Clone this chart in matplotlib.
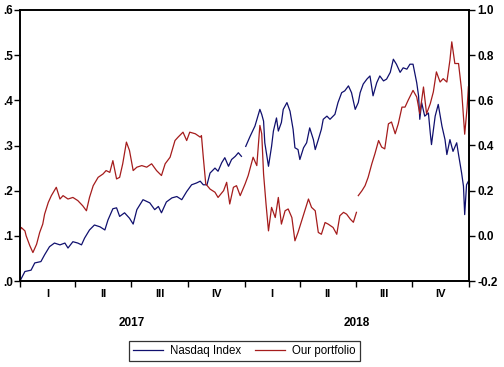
import numpy as np
import pandas as pd
import matplotlib
matplotlib.use("Agg")
import matplotlib.pyplot as plt
import matplotlib.transforms as mtransforms
from matplotlib.lines import Line2D

plt.rcParams['font.family'] = ['Liberation Sans', 'DejaVu Sans']

start_date = "2017-01-01"

# Nasdaq Index (left axis): day offset from start, value
nasdaq_day = [0, 8, 18, 24, 34, 40, 48, 56, 65, 73, 78, 86, 94, 100, 105, 113, 121, 130, 138, 143,
              151, 157, 162, 170, 178, 184, 190, 200, 211, 219, 225, 230, 238, 247, 255, 263, 271, 279,
              287, 293, 298, 304, 309, 317, 322, 328, 333, 339, 344, 350, 355, 360, 363, 367, 374, 382,
              390, 393, 396, 398, 404, 409, 412, 417, 420, 425, 428, 434, 439, 444, 447, 452, 455, 461,
              466, 471, 477, 480, 485, 490, 493, 499, 504, 512, 517, 523, 528, 534, 539, 545, 550, 553,
              558, 564, 569, 574, 580, 585, 591, 596, 602, 607, 612, 618, 623, 629, 634, 639, 645, 648,
              650, 653, 658, 664, 667, 669, 675, 680, 686, 691, 694, 699, 704, 710, 713, 718, 721, 723,
              726, 729]
nasdaq_val = [0.000, 0.021, 0.024, 0.040, 0.043, 0.058, 0.076, 0.084, 0.080, 0.084, 0.073, 0.087, 0.084,
              0.080, 0.095, 0.113, 0.124, 0.120, 0.113, 0.135, 0.160, 0.162, 0.143, 0.151, 0.139, 0.126,
              0.158, 0.180, 0.173, 0.158, 0.165, 0.151, 0.175, 0.184, 0.187, 0.180, 0.198, 0.213, 0.217,
              0.221, 0.213, 0.213, 0.239, 0.250, 0.243, 0.262, 0.273, 0.254, 0.269, 0.276, 0.284, 0.276,
              np.nan, 0.298, 0.320, 0.343, 0.380, 0.369, 0.354, 0.306, 0.254, 0.298, 0.332, 0.361, 0.332,
              0.351, 0.380, 0.395, 0.376, 0.336, 0.295, 0.291, 0.269, 0.295, 0.306, 0.339, 0.313, 0.291,
              0.313, 0.336, 0.358, 0.365, 0.358, 0.369, 0.395, 0.417, 0.421, 0.432, 0.417, 0.380, 0.395,
              0.417, 0.436, 0.447, 0.454, 0.410, 0.439, 0.454, 0.443, 0.447, 0.462, 0.491, 0.480, 0.462,
              0.472, 0.469, 0.480, 0.480, 0.439, 0.410, 0.358, 0.395, 0.365, 0.372, 0.328, 0.302, 0.365,
              0.391, 0.343, 0.313, 0.280, 0.313, 0.287, 0.306, 0.280, 0.239, 0.210, 0.147, 0.213, 0.221]

# Our portfolio (right axis)
portfolio_day = [0, 2, 8, 10, 16, 21, 27, 32, 37, 40, 46, 51, 59, 65, 70, 78, 86, 94, 102, 108, 113, 119,
                 127, 135, 140, 146, 151, 157, 162, 167, 173, 178, 184, 190, 198, 206, 214, 222, 230, 236,
                 244, 252, 257, 265, 271, 276, 285, 293, 295, 298, 302, 309, 317, 322, 331, 336, 341, 347,
                 352, 358, 366, 371, 379, 385, 390, 393, 396, 400, 404, 409, 415, 420, 425, 431, 436, 442,
                 447, 452, 458, 463, 469, 474, 480, 485, 490, 496, 501, 509, 515, 520, 526, 531, 537, 542,
                 547, 549, 550, 556, 561, 566, 572, 577, 583, 588, 593, 599, 604, 610, 615, 621, 626, 631,
                 639, 645, 650, 656, 661, 667, 672, 677, 683, 688, 694, 699, 702, 707, 713, 718, 723, 727,
                 729]
portfolio_val = [0.022, 0.037, 0.022, 0.000, -0.044, -0.074, -0.037, 0.015, 0.052, 0.096, 0.148, 0.178,
                 0.215, 0.163, 0.178, 0.163, 0.170, 0.156, 0.133, 0.111, 0.170, 0.222, 0.259, 0.274, 0.289,
                 0.281, 0.333, 0.252, 0.259, 0.319, 0.415, 0.378, 0.289, 0.304, 0.311, 0.304, 0.319, 0.289,
                 0.267, 0.319, 0.348, 0.422, 0.437, 0.459, 0.422, 0.459, 0.452, 0.437, 0.444, 0.348, 0.230,
                 0.207, 0.193, 0.170, 0.200, 0.237, 0.141, 0.215, 0.222, 0.178, 0.230, 0.267, 0.348, 0.311,
                 0.489, 0.452, 0.274, 0.141, 0.022, 0.126, 0.081, 0.170, 0.052, 0.111, 0.119, 0.081, -0.022,
                 0.015, 0.067, 0.111, 0.163, 0.126, 0.111, 0.015, 0.007, 0.059, 0.052, 0.037, 0.007, 0.089,
                 0.104, 0.096, 0.074, 0.060, 0.104, np.nan, 0.178, 0.200, 0.222, 0.259, 0.319, 0.363, 0.422,
                 0.393, 0.385, 0.496, 0.504, 0.452, 0.496, 0.570, 0.570, 0.600, 0.644, 0.615, 0.541, 0.659,
                 0.541, 0.585, 0.637, 0.726, 0.681, 0.696, 0.681, 0.778, 0.859, 0.763, 0.763, 0.644, 0.450,
                 0.570, 0.660]

left_ticks = [0.0, 0.1, 0.2, 0.3, 0.4, 0.5, 0.6]
left_tick_labels = [".0", ".1", ".2", ".3", ".4", ".5", ".6"]
right_ticks = [-0.2, 0.0, 0.2, 0.4, 0.6, 0.8, 1.0]
right_tick_labels = ["-0.2", "0.0", "0.2", "0.4", "0.6", "0.8", "1.0"]
quarter_labels = ["I", "II", "III", "IV", "I", "II", "III", "IV"]
year_labels = ["2017", "2018"]
series_names = ["Nasdaq Index", "Our portfolio"]

blue = "#10106e"
red = "#a51c1c"

t0 = pd.Timestamp(start_date)
nd = t0 + pd.to_timedelta(nasdaq_day, unit="D")
pdays = t0 + pd.to_timedelta(portfolio_day, unit="D")

fig = plt.figure(figsize=(5.04, 3.67), dpi=100)
ax = fig.add_axes([20/504, 1-281/367, 449/504, 271/367])
ax2 = ax.twinx()

ax.plot(nd, nasdaq_val, color=blue, lw=0.9)
ax2.plot(pdays, portfolio_val, color=red, lw=0.9)

xmin = pd.Timestamp("2017-01-01")
xmax = pd.Timestamp("2019-01-01")
ax.set_xlim(xmin, xmax)
ax.set_ylim(0.0, 0.6)
ax2.set_ylim(-0.2, 1.0)

ax.set_yticks(left_ticks)
ax.set_yticklabels(left_tick_labels, fontweight="bold", fontsize=8.5)
ax2.set_yticks(right_ticks)
ax2.set_yticklabels(right_tick_labels, fontweight="bold", fontsize=8.5)

# quarter boundaries as major ticks, quarter centers as minor (labels)
qstarts = pd.date_range("2017-01-01", "2019-01-01", freq="QS")
qmids = [qstarts[i] + (qstarts[i+1] - qstarts[i]) / 2 for i in range(len(qstarts) - 1)]
ax.set_xticks(list(qstarts))
ax.set_xticklabels([])
ax.set_xticks(qmids, minor=True)
ax.set_xticklabels(quarter_labels, minor=True, fontweight="bold", fontsize=8)
ax.tick_params(axis="x", which="minor", length=0, pad=6)
ax.tick_params(axis="x", which="major", length=4, direction="out", width=1)
ax.tick_params(axis="y", length=4, width=1, pad=1)
ax2.tick_params(axis="y", length=4, width=1, pad=2)

trans = mtransforms.blended_transform_factory(ax.transData, ax.transAxes)
for yl in year_labels:
    mid = pd.Timestamp(f"{yl}-07-02")
    ax.text(mid, -0.155, yl, transform=trans, ha="center", va="center",
            fontweight="bold", fontsize=8.5)

for a in (ax, ax2):
    for s in a.spines.values():
        s.set_linewidth(1.2)
        s.set_color("black")

handles = [Line2D([], [], color=blue, lw=0.9), Line2D([], [], color=red, lw=0.9)]
leg = fig.legend(handles, series_names, loc="lower center", bbox_to_anchor=(0.485, 0.0),
                 ncol=2, fontsize=8.3, frameon=True, fancybox=False, handlelength=2.6,
                 columnspacing=1.2, borderpad=0.35, handletextpad=0.6)
leg.get_frame().set_edgecolor("black")
leg.get_frame().set_linewidth(0.9)

fig.savefig("out.png", dpi=100)
